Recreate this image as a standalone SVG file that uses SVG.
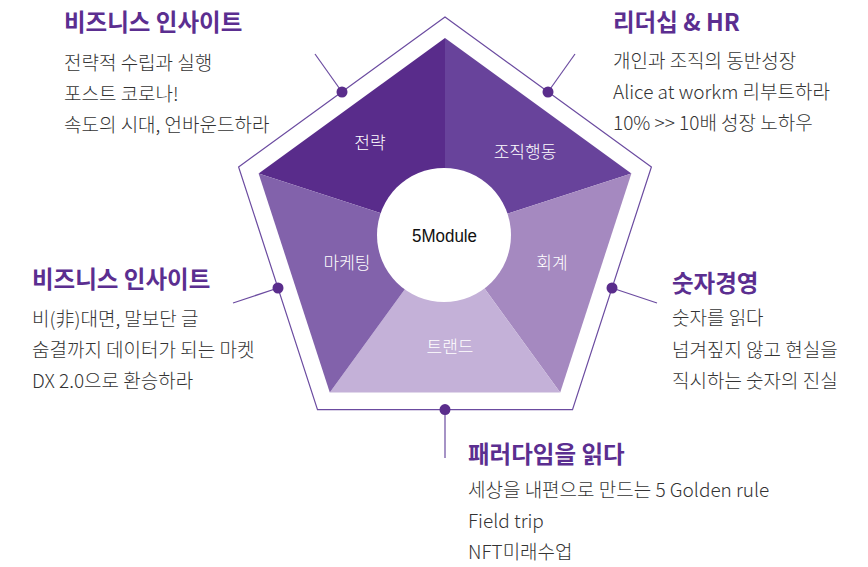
<svg xmlns="http://www.w3.org/2000/svg" width="868" height="567" viewBox="0 0 868 567">
<style>
.title{font-family:"Noto Sans CJK KR","Noto Sans",sans-serif;font-weight:700;font-size:23.5px;fill:#5b2e90}
.body{font-family:"Noto Sans CJK KR","Noto Sans",sans-serif;font-weight:300;font-size:19px;fill:#333333}
.seg{font-family:"Noto Sans CJK KR","Noto Sans",sans-serif;font-weight:300;font-size:17px;fill:#ffffff;text-anchor:middle}
.lead{stroke:#6b4ba0;stroke-width:1.2;fill:none}
.dot{fill:#5a2d8c}
</style>
<rect width="868" height="567" fill="#ffffff"/>
<g id="frame">
<polygon points="445,17 651.4,166.9 572.5,409.6 317.5,409.6 238.6,166.9" fill="none" stroke="#6b4ba0" stroke-width="1.2"/>
</g>
<g id="segments">
<polygon id="seg-strategy" points="445,38 258.6,173.4 445,234" fill="#592c8b"/>
<polygon id="seg-org" points="445,38 631.4,173.4 445,234" fill="#68439b"/>
<polygon id="seg-account" points="631.4,173.4 560.2,392.6 445,234" fill="#a589c0"/>
<polygon id="seg-trend" points="560.2,392.6 329.8,392.6 445,234" fill="#c4b1d8"/>
<polygon id="seg-marketing" points="329.8,392.6 258.6,173.4 445,234" fill="#8262ab"/>
<text class="seg" x="370" y="149">전략</text>
<text class="seg" x="525" y="158">조직행동</text>
<text class="seg" x="347" y="269">마케팅</text>
<text class="seg" x="552" y="269">회계</text>
<text class="seg" x="450" y="353">트랜드</text>
</g>
<g id="center">
<circle cx="444" cy="235" r="67" fill="#ffffff"/>
<text x="412" y="242" font-family="'Liberation Sans',Arial,sans-serif" font-size="18" fill="#111" textLength="65" lengthAdjust="spacingAndGlyphs">5Module</text>
</g>
<g id="connectors">
<line class="lead" x1="342" y1="92" x2="315" y2="54"/>
<line class="lead" x1="548" y1="92" x2="575" y2="54"/>
<line class="lead" x1="278" y1="288" x2="233" y2="303"/>
<line class="lead" x1="612" y1="288" x2="657" y2="303"/>
<line class="lead" x1="445" y1="409.6" x2="445" y2="458"/>
<circle class="dot" cx="342" cy="92" r="5.5"/>
<circle class="dot" cx="548" cy="92" r="5.5"/>
<circle class="dot" cx="278" cy="288" r="5.5"/>
<circle class="dot" cx="612" cy="288" r="5.5"/>
<circle class="dot" cx="445" cy="409.6" r="5.5"/>
</g>
<g id="block-business-1">
<text class="title" x="64" y="31">비즈니스 인사이트</text>
<text class="body" x="64" y="70">전략적 수립과 실행</text>
<text class="body" x="64" y="101">포스트 코로나!</text>
<text class="body" x="64" y="132">속도의 시대, 언바운드하라</text>
</g>
<g id="block-leadership">
<text class="title" x="613" y="31">리더십 &amp; HR</text>
<text class="body" x="613" y="68">개인과 조직의 동반성장</text>
<text class="body" x="613" y="99">Alice at workm 리부트하라</text>
<text class="body" x="613" y="130">10% &gt;&gt; 10배 성장 노하우</text>
</g>
<g id="block-business-2">
<text class="title" x="32" y="288">비즈니스 인사이트</text>
<text class="body" x="32" y="326">비(非)대면, 말보단 글</text>
<text class="body" x="32" y="357">숨결까지 데이터가 되는 마켓</text>
<text class="body" x="32" y="388">DX 2.0으로 환승하라</text>
</g>
<g id="block-numbers">
<text class="title" x="672" y="292">숫자경영</text>
<text class="body" x="672" y="325">숫자를 읽다</text>
<text class="body" x="672" y="357">넘겨짚지 않고 현실을</text>
<text class="body" x="672" y="388">직시하는 숫자의 진실</text>
</g>
<g id="block-paradigm">
<text class="title" x="468" y="463">패러다임을 읽다</text>
<text class="body" x="468" y="497">세상을 내편으로 만드는 5 Golden rule</text>
<text class="body" x="468" y="528">Field trip</text>
<text class="body" x="468" y="559">NFT미래수업</text>
</g>
</svg>
